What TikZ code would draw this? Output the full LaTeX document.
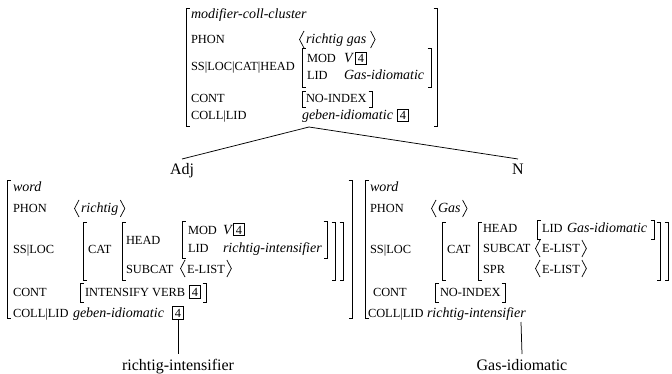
\documentclass[tikz,border=0pt]{standalone}
\usepackage{fontspec}
\setmainfont{Liberation Serif}
\usetikzlibrary{calc}
\newcommand\lbr[3]{\draw[brk] (#1+3.5,#2) -- (#1,#2) -- (#1,#3) -- (#1+3.5,#3);}
\newcommand\rbr[3]{\draw[brk] (#1-3.5,#2) -- (#1,#2) -- (#1,#3) -- (#1-3.5,#3);}
\newcommand\angs[1]{%
  \draw[brk] ([shift={(5,-13)}]#1.base west) -- ([shift={(0.5,-4.5)}]#1.base west) -- ([shift={(5,4)}]#1.base west);
  \draw[brk] ([shift={(-5,-13)}]#1.base east) -- ([shift={(-0.5,-4.5)}]#1.base east) -- ([shift={(-5,4)}]#1.base east);}
\begin{document}
\begin{tikzpicture}[x=1pt,y=-1pt,
  every node/.style={inner sep=0pt, outer sep=0pt},
  ft/.style={anchor=base west, font=\fontsize{12.4}{14}\selectfont},
  vl/.style={anchor=base west, font=\fontsize{14}{16}\selectfont\itshape},
  av/.style={vl, inner xsep=7pt},
  afv/.style={ft, inner xsep=7pt},
  bx/.style={anchor=base west, draw, line width=1pt, inner xsep=2.8pt, inner ysep=2pt, font=\fontsize{12.4}{14}\selectfont},
  tl/.style={anchor=base, font=\fontsize{16}{18}\selectfont, text height=11pt, text depth=3.5pt, inner ysep=5pt},
  brk/.style={line width=0.7pt},
  edge/.style={line width=0.75pt}]
\useasboundingbox[fill=white] (0,0) rectangle (672,374);

% ---------- top AVM ----------
\lbr{186}{8}{126} \rbr{437}{8}{126}
\node[vl] (t0) at (191,19) {modifier-coll-cluster};
\node[ft] (t1) at (191,44) {PHON};
\node[av] (t1v) at (299,44) {richtig gas\,}; \angs{t1v}
\node[ft] (t2) at (191,71) {SS|LOC|CAT|HEAD};
\lbr{302}{48}{87} \rbr{431}{48}{87}
\node[ft] (t3) at (307,63) {MOD};
\node[vl] (t3v) at (344,63) {V};
\node[bx] (t3b) at (355,63) {4};
\node[ft] (t4) at (307,80) {LID};
\node[vl] (t4v) at (344,80) {Gas-idiomatic};
\node[ft] (t5) at (191,103) {CONT};
\lbr{302}{91}{107} \rbr{372}{91}{107}
\node[ft] (t5v) at (306,103) {NO-INDEX};
\node[ft] (t6) at (191,120) {COLL|LID};
\node[vl] (t6v) at (302,120) {geben-idiomatic};
\node[bx] (t6b) at (397,120) {4};
\coordinate (apex) at (309,127);

% ---------- tree labels ----------
\node[tl] (adj) at (182,175) {Adj};
\node[tl] (n) at (518,175) {N};
\draw[edge] (apex) -- (adj.north);
\draw[edge] (apex) -- (n.north);

% ---------- left AVM (Adj) ----------
\lbr{7}{180}{318} \rbr{352}{180}{318}
\node[vl] (l0) at (13,192) {word};
\node[ft] (l1) at (13,213) {PHON};
\node[av] (l1v) at (74,213) {richtig}; \angs{l1v}
\node[ft] (l2) at (13,254) {SS|LOC};
\lbr{83}{222}{280} \rbr{343}{222}{280}
\node[ft] (l2c) at (88,254) {CAT};
\lbr{122}{222}{280} \rbr{335}{222}{280}
\node[ft] (l3) at (126,244) {HEAD};
\lbr{182}{221}{258} \rbr{327}{221}{258}
\node[ft] (l3m) at (188,234) {MOD};
\node[vl] (l3mv) at (223,234) {V};
\node[bx] (l3mb) at (233,234) {4};
\node[ft] (l3l) at (188,252) {LID};
\node[vl] (l3lv) at (223,252) {richtig-intensifier};
\node[ft] (l4) at (126,273) {SUBCAT};
\node[afv] (l4v) at (180,273) {E-LIST}; \angs{l4v}
\node[ft] (l5) at (13,296) {CONT};
\lbr{80}{283}{302} \rbr{206}{283}{302}
\node[ft] (l5v) at (85,296) {INTENSIFY VERB};
\node[bx] (l5b) at (189,296) {4};
\node[ft] (l6) at (13,317) {COLL|LID};
\node[vl] (l6v) at (73,317) {geben-idiomatic};
\node[bx] (l6b) at (172,317) {4};
\node[tl] (ri) at (178,370) {richtig-intensifier};
\draw[edge] (l6b.south) -- (l6b.south |- ri.north);

% ---------- right AVM (N) ----------
\lbr{365}{180}{318}
\node[vl] (r0) at (370,192) {word};
\node[ft] (r1) at (370,213) {PHON};
\node[av] (r1v) at (431,213) {Gas}; \angs{r1v}
\node[ft] (r2) at (370,254) {SS|LOC};
\lbr{442}{222}{280} \rbr{668}{222}{280}
\node[ft] (r2c) at (447,254) {CAT};
\lbr{478}{222}{280} \rbr{660}{222}{280}
\node[ft] (r3) at (483,233) {HEAD};
\lbr{537}{220}{239} \rbr{654}{220}{239}
\node[ft] (r3l) at (542,233) {LID};
\node[vl] (r3lv) at (567,233) {Gas-idiomatic};
\node[ft] (r4) at (483,253) {SUBCAT};
\node[afv] (r4v) at (535,253) {E-LIST}; \angs{r4v}
\node[ft] (r5) at (483,273) {SPR};
\node[afv] (r5v) at (535,273) {E-LIST}; \angs{r5v}
\node[ft] (r6) at (373,296) {CONT};
\lbr{435}{283}{302} \rbr{505}{283}{302}
\node[ft] (r6v) at (440,296) {NO-INDEX};
\node[ft] (r7) at (368,317) {COLL|LID};
\node[vl] (r7v) at (427,317) {richtig-intensifier};
\coordinate (c2) at (521,322);
\node[tl] (gi) at (522,370) {Gas-idiomatic};
\draw[edge] (c2) -- (gi.north);
\end{tikzpicture}
\end{document}
